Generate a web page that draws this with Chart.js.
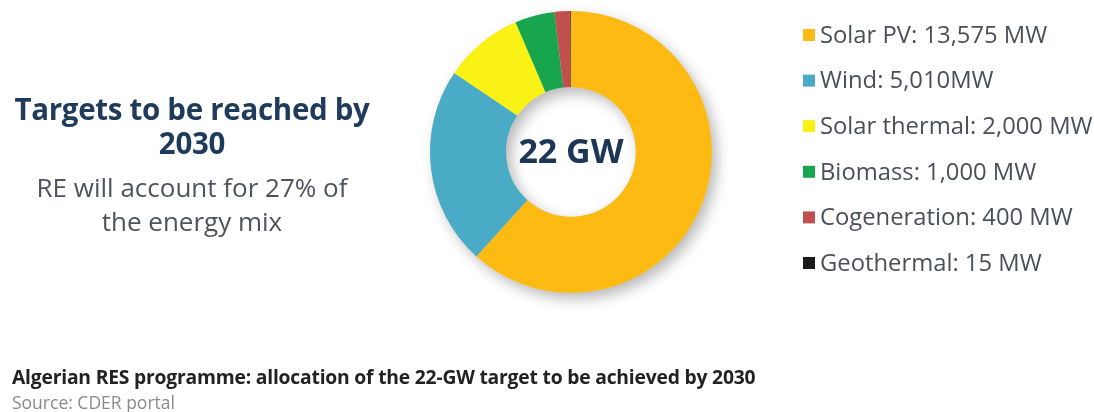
<!DOCTYPE html>
<html>
<head>
<meta charset="utf-8">
<script src="https://cdn.jsdelivr.net/npm/chart.js@4/dist/chart.umd.min.js"></script>
<style>
  html, body { margin:0; padding:0; background:#fff; }
  #wrap { position:relative; width:1094px; height:412px; overflow:hidden; }
  canvas { position:absolute; left:0; top:0; }
  .t { position:absolute; white-space:nowrap; font-family:"Open Sans", sans-serif; }
</style>
</head>
<body>
<div id="wrap">
  <canvas id="c" width="1094" height="412"></canvas>
  <div class="t" id="title" style="left:0;width:384px;top:92px;text-align:center;font-weight:700;font-size:29.5px;line-height:34px;color:#1f3b5c;letter-spacing:-0.3px;"></div>
  <div class="t" id="sub" style="left:0;width:384px;top:170px;text-align:center;font-size:26px;line-height:34px;color:#4e545c;"></div>
  <div class="t" id="cap" style="left:12px;top:363px;font-weight:700;font-size:19.3px;color:#222;letter-spacing:-0.2px;"></div>
  <div class="t" id="src" style="left:12px;top:390px;font-size:17.5px;color:#8a8a8a;"></div>
</div>
<script>
const categories = ["Solar PV", "Wind", "Solar thermal", "Biomass", "Cogeneration", "Geothermal"];
const values = [13575, 5010, 2000, 1000, 400, 15];
const legendLabels = ["Solar PV: 13,575 MW", "Wind: 5,010MW", "Solar thermal: 2,000 MW", "Biomass: 1,000 MW", "Cogeneration: 400 MW", "Geothermal: 15 MW"];
const colors = ["#FDBA12", "#4AABC6", "#FAF214", "#17A64E", "#C0504D", "#1a1a1a"];
const titleLines = ["Targets to be reached by", "2030"];
const subLines = ["RE will account for 27% of", "the energy mix"];
const centerText = "22 GW";
const captionText = "Algerian RES programme: allocation of the 22-GW target to be achieved by 2030";
const sourceText = "Source: CDER portal";

document.getElementById('title').innerHTML = titleLines.join('<br>');
document.getElementById('sub').innerHTML = subLines.join('<br>');
document.getElementById('cap').textContent = captionText;
document.getElementById('src').textContent = sourceText;

const shadowPlugin = {
  id: 'ringShadow',
  beforeDatasetsDraw(chart) {
    const meta = chart.getDatasetMeta(0);
    if (!meta.data.length) return;
    const a = meta.data[0];
    const ctx = chart.ctx;
    ctx.save();
    ctx.shadowColor = 'rgba(0,0,0,0.28)';
    ctx.shadowBlur = 14;
    ctx.shadowOffsetX = 5;
    ctx.shadowOffsetY = 6;
    ctx.beginPath();
    ctx.arc(a.x, a.y, a.outerRadius, 0, Math.PI * 2);
    ctx.arc(a.x, a.y, a.innerRadius, 0, Math.PI * 2, true);
    ctx.fillStyle = '#ddd';
    ctx.fill();
    ctx.restore();
  },
  afterDatasetsDraw(chart) {
    const meta = chart.getDatasetMeta(0);
    const a = meta.data[0];
    const ctx = chart.ctx;
    ctx.save();
    ctx.fillStyle = '#1d3655';
    ctx.font = 'bold 34px "Open Sans", sans-serif';
    ctx.textAlign = 'center';
    ctx.textBaseline = 'middle';
    ctx.fillText(centerText, a.x, a.y + 1);
    // legend
    const x0 = 803, y0 = 35, dy = 45.6;
    ctx.textAlign = 'left';
    ctx.font = '23.8px "Open Sans", sans-serif';
    categories.forEach((c, i) => {
      const y = y0 + i * dy;
      ctx.fillStyle = colors[i];
      ctx.fillRect(x0, y - 6, 12, 12);
      ctx.fillStyle = '#4a505a';
      ctx.fillText(legendLabels[i], x0 + 17, y + 1);
    });
    ctx.restore();
  }
};

const cx = 571, cy = 152, R = 141;
new Chart(document.getElementById('c'), {
  type: 'doughnut',
  data: {
    labels: categories,
    datasets: [{ data: values, backgroundColor: colors, borderWidth: 0 }]
  },
  options: {
    responsive: false,
    animation: false,
    cutout: '46%',
    layout: { padding: { left: cx - R, right: 1094 - cx - R, top: cy - R, bottom: 412 - cy - R } },
    plugins: { legend: { display: false }, tooltip: { enabled: false } }
  },
  plugins: [shadowPlugin]
});
</script>
</body>
</html>
